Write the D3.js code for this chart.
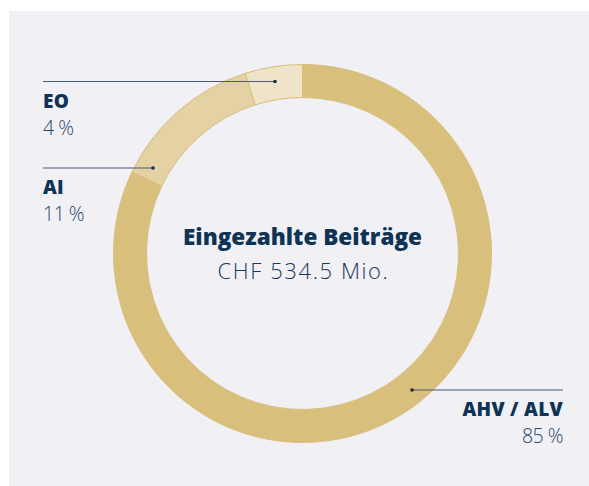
<!DOCTYPE html>
<html>
<head>
<meta charset="utf-8">
<script src="https://cdn.jsdelivr.net/npm/d3@7"></script>
<style>
  html, body { margin: 0; padding: 0; background: #fff; }
  svg { display: block; }
</style>
</head>
<body>
<div id="chart"></div>
<script>
var categories = ["AHV / ALV", "AI", "EO"];
var arcShare = [82.1, 13.0, 4.9];
var shareLabels = ["85 %", "11 %", "4 %"];
var colors = ["#d9bf7c", "#e4d2a4", "#efe4c8"];
var title = "Eingezahlte Beiträge";
var subtitle = "CHF 534.5 Mio.";

var width = 589, height = 486;
var cx = 302.5, cy = 253.5;
var outerR = 189, innerR = 156;

var svg = d3.select("#chart").append("svg")
    .attr("width", width)
    .attr("height", height);

// panel background
svg.append("rect")
    .attr("x", 9).attr("y", 11)
    .attr("width", width - 9).attr("height", height - 11)
    .attr("fill", "#f0f0f5");

var pie = d3.pie().sort(null).value(d => d);
var arc = d3.arc().innerRadius(innerR).outerRadius(outerR);
var arcs = pie(arcShare);

var ring = svg.append("g").attr("transform", `translate(${cx},${cy})`);

ring.selectAll("path")
    .data(arcs)
    .join("path")
    .attr("d", arc)
    .attr("fill", (d, i) => colors[i])
    .attr("stroke", colors[0])
    .attr("stroke-width", 1);

// leader lines, one per category (same order)
var leaders = [
    { y: 390, x1: 563, x2: 412, anchor: "end", tx: 563 },
    { y: 168, x1: 43, x2: 153, anchor: "start", tx: 43 },
    { y: 81.5, x1: 43, x2: 275, anchor: "start", tx: 43 }
];

var lab = svg.append("g");
leaders.forEach((l, i) => {
    lab.append("line")
        .attr("x1", l.x1).attr("x2", l.x2)
        .attr("y1", l.y).attr("y2", l.y)
        .attr("stroke", "#4a5a75")
        .attr("stroke-width", 1.2);
    lab.append("circle")
        .attr("cx", l.x2).attr("cy", l.y)
        .attr("r", 1.8)
        .attr("fill", "#1b2a44");
    lab.append("text")
        .attr("x", l.tx).attr("y", l.y + 26)
        .attr("text-anchor", l.anchor)
        .attr("font-family", "Open Sans")
        .attr("font-weight", 800)
        .attr("font-size", 19)
        .attr("letter-spacing", 0.3)
        .attr("fill", "#0e3354")
        .text(categories[i]);
    lab.append("text")
        .attr("x", l.tx).attr("y", l.y + 53)
        .attr("text-anchor", l.anchor)
        .attr("font-family", "Open Sans")
        .attr("font-weight", 300)
        .attr("font-size", 19.5)
        .attr("letter-spacing", -0.5)
        .attr("fill", "#274a6c")
        .text(shareLabels[i]);
});

// centre text
svg.append("text")
    .attr("x", 302.5).attr("y", 244.5)
    .attr("text-anchor", "middle")
    .attr("font-family", "Open Sans")
    .attr("font-weight", 800)
    .attr("font-size", 22.5)
    .attr("fill", "#0e3354")
    .text(title);

svg.append("text")
    .attr("x", 303.5).attr("y", 279)
    .attr("text-anchor", "middle")
    .attr("font-family", "Open Sans")
    .attr("font-weight", 300)
    .attr("font-size", 22)
    .attr("letter-spacing", 1.6)
    .attr("fill", "#16385a")
    .text(subtitle);
</script>
</body>
</html>
